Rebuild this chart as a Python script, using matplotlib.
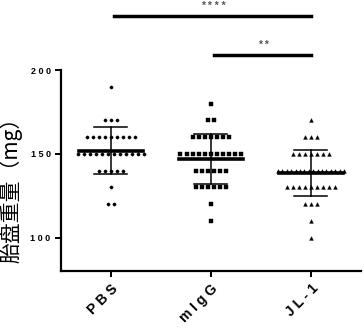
import numpy as np
import matplotlib
matplotlib.use("Agg")
import matplotlib.pyplot as plt

plt.rcParams['font.family'] = ['Liberation Sans', 'Noto Sans CJK SC', 'DejaVu Sans']

categories = ["P B S", "m I g G", "J L - 1"]
markers = ["o", "s", "^"]

# (value, count) rows for each group
pbs_values = [190, 170, 160, 150, 140, 130, 120]
pbs_counts = [1, 3, 9, 12, 5, 1, 2]
migg_values = [180, 170, 160, 150, 140, 130, 120, 110]
migg_counts = [1, 2, 7, 11, 6, 6, 1, 1]
jl1_values = [170, 160, 150, 140, 130, 120, 110, 100]
jl1_counts = [1, 3, 7, 16, 9, 3, 1, 1]

yticks = [100, 150, 200]
ylabel = "胎盘重量（mg）"
sig_pairs = [(0, 2, 232, "* * * *"), (1, 2, 209, "* *")]

groups = [(pbs_values, pbs_counts), (migg_values, migg_counts), (jl1_values, jl1_counts)]

fig = plt.figure(figsize=(3.64, 3.34), dpi=100)
ax = fig.add_axes([61/364, 63/334, 300/364, 268/334])
ax.set_xlim(-0.5, 2.5)
ax.set_ylim(80, 240)

msizes = [2.3, 2.3, 2.7]
for i, (vals, cnts) in enumerate(groups):
    data = np.repeat(vals, cnts)
    for v, n in zip(vals, cnts):
        sp = 0.061 if n < 2 else min(0.061, 0.66 / (n - 1))
        xs = i + (np.arange(n) - (n - 1) / 2) * sp
        ax.plot(xs, [v] * n, linestyle="none", marker=markers[i], ms=msizes[i],
                color="black", mec="black", mew=0.3, zorder=3)
    m = data.mean()
    sd = data.std(ddof=1)
    ax.plot([i - 0.32, i + 0.32], [m, m], color="black", lw=2.6, zorder=4)
    ax.plot([i, i], [m - sd, m + sd], color="black", lw=1.1, zorder=4)
    for y in (m - sd, m + sd):
        ax.plot([i - 0.165, i + 0.165], [y, y], color="black", lw=1.1, zorder=4)

for a, b, y, txt in sig_pairs:
    ax.plot([a + 0.03, b], [y, y], color="black", lw=2.5, clip_on=False)
    ax.text((a + b) / 2 + 0.02, y + 3, txt, ha="center", va="bottom", fontsize=7.5,
            fontweight="bold", color="#555555")

ax.spines['top'].set_visible(False)
ax.spines['right'].set_visible(False)
ax.spines['left'].set_bounds(80, 200)
ax.spines['left'].set_linewidth(1.6)
ax.spines['bottom'].set_linewidth(1.6)

ax.set_yticks(yticks)
ax.set_yticklabels([" ".join(str(t)) for t in yticks], fontsize=6.5, fontweight="bold")
ax.set_xticks(range(3))
ax.set_xticklabels(categories, rotation=45, ha="right", rotation_mode="anchor",
                   fontsize=10, fontweight="bold")
ax.tick_params(axis='both', width=1.4, length=4.5, direction='out', pad=3)

ax.set_ylabel(ylabel, fontsize=15, fontweight="medium",
              family=['Noto Sans CJK SC', 'DejaVu Sans'])
ax.yaxis.set_label_coords(-0.127, 0.32)

fig.savefig("out.png", dpi=100)
